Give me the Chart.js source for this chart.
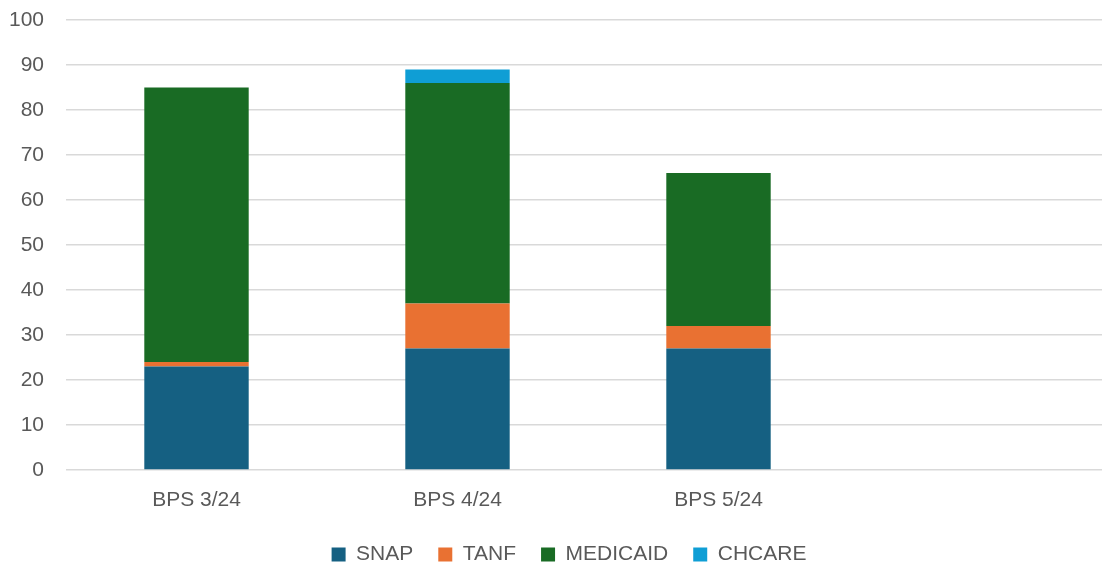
<!DOCTYPE html>
<html>
<head>
<meta charset="utf-8">
<script src="https://cdn.jsdelivr.net/npm/chart.js@4"></script>
<style>
  html, body { margin: 0; padding: 0; background: #fff; overflow: hidden; }
  #wrap { width: 1102px; height: 567px; overflow: hidden; }
</style>
</head>
<body>
<div id="wrap"><canvas id="c" width="1137" height="567"></canvas></div>
<script>
const categories = ["BPS 3/24", "BPS 4/24", "BPS 5/24", ""];
const snap = [23, 27, 27, null];
const tanf = [1, 10, 5, null];
const medicaid = [61, 49, 34, null];
const chcare = [0, 3, 0, null];
const yTicks = [0, 10, 20, 30, 40, 50, 60, 70, 80, 90, 100];

const FONT = "'Liberation Sans', Arial, sans-serif";
const ds = (label, data, color) => ({
  label, data, backgroundColor: color, borderWidth: 0,
  barPercentage: 0.8, categoryPercentage: 0.5
});

const legendFit = {
  id: 'legendFit',
  beforeLayout(chart) {
    const lg = chart.legend;
    if (lg && !lg.__patched) {
      const orig = lg.fit;
      lg.fit = function () { orig.call(this); this.height = 48; };
      lg.__patched = true;
    }
  },
  afterLayout(chart) {
    const lg = chart.legend;
    if (lg) { lg.left += 12; lg.right += 12; }
  }
};

new Chart(document.getElementById('c'), {
  type: 'bar',
  data: {
    labels: categories,
    datasets: [
      ds('SNAP', snap, '#156082'),
      ds('TANF', tanf, '#E97132'),
      ds('MEDICAID', medicaid, '#196B24'),
      ds('CHCARE', chcare, '#0F9ED5')
    ]
  },
  plugins: [legendFit],
  options: {
    responsive: false,
    animation: false,
    layout: { padding: { top: 0, right: 27, bottom: 0, left: 4 } },
    plugins: {
      tooltip: { enabled: false },
      legend: {
        position: 'bottom',
        labels: {
          font: { family: FONT, size: 21 },
          color: '#595959',
          boxWidth: 14, boxHeight: 14,
          padding: 25
        }
      }
    },
    scales: {
      x: {
        stacked: true,
        grid: { display: false, drawTicks: false },
        border: { display: false },
        afterFit: (axis) => { axis.height = 49; },
        ticks: { font: { family: FONT, size: 21 }, color: '#595959', padding: 18 }
      },
      y: {
        stacked: true,
        min: 0, max: 100,
        afterBuildTicks: (axis) => { axis.ticks = yTicks.map(v => ({ value: v })); },
        afterFit: (axis) => { axis.width = 62; axis.paddingTop = 20; axis.paddingBottom = 0; },
        grid: { color: '#d9d9d9', lineWidth: 1.5, drawTicks: false },
        border: { display: false },
        ticks: { font: { family: FONT, size: 21 }, color: '#595959', padding: 22 }
      }
    }
  }
});
</script>
</body>
</html>
